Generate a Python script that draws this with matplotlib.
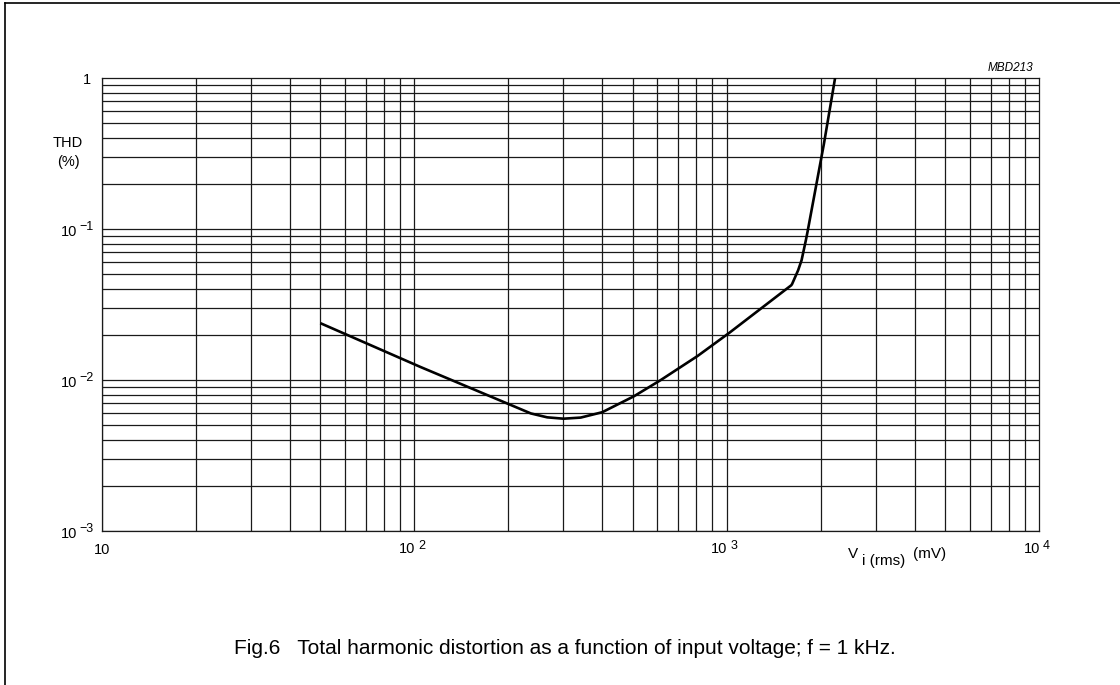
import numpy as np
import matplotlib
matplotlib.use('Agg')
import matplotlib.pyplot as plt
from matplotlib.lines import Line2D

plt.rcParams['font.family'] = ['Liberation Sans', 'DejaVu Sans']

# curve: input voltage (mV) vs THD (%)
vin_mv = [50, 99, 200, 235, 266, 299, 340, 399, 502, 604, 801, 1000,
          1310, 1615, 1695, 1738, 1803, 1941, 2050, 2224]
thd_pct = [0.0238, 0.0128, 0.00693, 0.00602, 0.00566, 0.00554, 0.00563, 0.00611,
           0.00775, 0.00975, 0.01426, 0.0199, 0.0306, 0.0426, 0.0535, 0.0623,
           0.0889, 0.201, 0.370, 1.0]

# tick positions and the exponents written next to "10"
x_ticks = [100, 1000, 10000]
x_exps = ['2', '3', '4']
y_ticks = [1e-3, 1e-2, 1e-1]
y_exps = ['\u22123', '\u22122', '\u22121']

fig = plt.figure(figsize=(11.2, 6.85), dpi=100)
ax = fig.add_axes([102 / 1120, 1 - 531 / 685, 937 / 1120, 453 / 685])

ax.set_xscale('log')
ax.set_yscale('log')
ax.set_xlim(10, 1e4)
ax.set_ylim(1e-3, 1)

# full 1..9 grid in every decade
grid_kw = dict(color='#1a1a1a', linewidth=0.9, zorder=1)
for dec in [10, 100, 1000]:
    for m in range(1, 10):
        ax.axvline(dec * m, **grid_kw)
for dec in [1e-3, 1e-2, 1e-1]:
    for m in range(1, 10):
        ax.axhline(dec * m, **grid_kw)

# join the read points in log space (fine resampling keeps the line even)
lx = np.log10(vin_mv)
ly = np.log10(thd_pct)
fine_x = np.linspace(lx[0], lx[-1], 600)
fine_y = np.interp(fine_x, lx, ly)
ax.plot(10 ** fine_x, 10 ** fine_y, color='black', linewidth=1.9, zorder=3,
        solid_joinstyle='round', solid_capstyle='butt')

for s in ax.spines.values():
    s.set_linewidth(0.9)
    s.set_color('#1a1a1a')

ax.set_xticks([])
ax.set_yticks([])
ax.minorticks_off()

# datasheet style tick labels: "10" with a raised exponent
xt = ax.get_xaxis_transform()
yt = ax.get_yaxis_transform()
lab = dict(textcoords='offset pixels', fontsize=10.5, annotation_clip=False)
ax.annotate('10', xy=(10, 0), xycoords=xt, xytext=(0, -19), ha='center', va='center', **lab)
for v, e in zip(x_ticks, x_exps):
    ax.annotate('10', xy=(v, 0), xycoords=xt, xytext=(1, -18), ha='right', va='center', **lab)
    ax.annotate(e, xy=(v, 0), xycoords=xt, xytext=(4, -15), ha='left', va='center',
                textcoords='offset pixels', fontsize=9, annotation_clip=False)
ax.annotate('1', xy=(0, 1), xycoords=yt, xytext=(-11, -2), ha='right', va='center', **lab)
for v, e in zip(y_ticks, y_exps):
    ax.annotate('10', xy=(0, v), xycoords=yt, xytext=(-25, -3), ha='right', va='center', **lab)
    ax.annotate(e, xy=(0, v), xycoords=yt, xytext=(-23, 2), ha='left', va='center',
                textcoords='offset pixels', fontsize=9, annotation_clip=False)

# axis titles
fig.text(68 / 1120, 1 - 143 / 685, 'THD', ha='center', va='center', fontsize=10.5)
fig.text(68 / 1120, 1 - 162 / 685, '(%)', ha='center', va='center', fontsize=10.5)
fig.text(848 / 1120, 1 - 558 / 685, 'V', ha='left', va='baseline', fontsize=11)
fig.text(862 / 1120, 1 - 565 / 685, 'i (rms)', ha='left', va='baseline', fontsize=11)
fig.text(913 / 1120, 1 - 558 / 685, '(mV)', ha='left', va='baseline', fontsize=11)

fig.text(1033 / 1120, 1 - 68 / 685, 'MBD213', ha='right', va='center',
         fontsize=8.5, style='italic')

fig.text(565 / 1120, 1 - 649 / 685,
         'Fig.6   Total harmonic distortion as a function of input voltage; f = 1 kHz.',
         ha='center', va='center', fontsize=15)

# page frame (left and top edges)
fig.add_artist(Line2D([5 / 1120, 5 / 1120], [0, 1 - 3 / 685], color='black', linewidth=1.2))
fig.add_artist(Line2D([5 / 1120, 1], [1 - 3 / 685, 1 - 3 / 685], color='black', linewidth=1.2))

fig.savefig('out.png', dpi=100, facecolor='white')
